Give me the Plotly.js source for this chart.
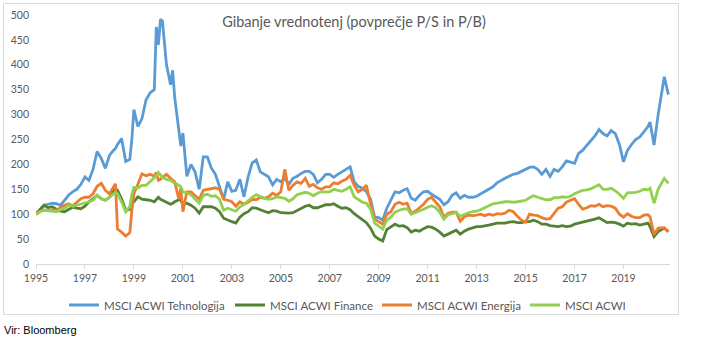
<!DOCTYPE html>
<html>
<head>
<meta charset="utf-8">
<script src="https://cdn.plot.ly/plotly-3.0.1.min.js"></script>
<style>
  html, body { margin: 0; padding: 0; background: #ffffff; }
  #chart { width: 704px; height: 357px; }
</style>
</head>
<body>
<div id="chart"></div>
<script>
// Dates of the observations (month)
const dates = [
  "1995-01","1995-03","1995-05","1995-07","1995-09","1995-11",
  "1996-01","1996-03","1996-05","1996-07","1996-09","1996-11",
  "1997-01","1997-03","1997-05","1997-07","1997-09","1997-11",
  "1998-01","1998-03","1998-04","1998-05","1998-07","1998-09","1998-11","1998-12",
  "1999-01","1999-03","1999-05","1999-07","1999-09","1999-11","1999-12",
  "2000-01","2000-02","2000-03","2000-05","2000-07","2000-08","2000-09","2000-11","2000-12",
  "2001-01","2001-03","2001-05","2001-07","2001-09","2001-11",
  "2002-01","2002-03","2002-05","2002-07","2002-09","2002-11",
  "2003-01","2003-03","2003-05","2003-07","2003-09","2003-11",
  "2004-01","2004-03","2004-05","2004-07","2004-09","2004-11",
  "2005-01","2005-03","2005-05","2005-07","2005-09","2005-11",
  "2006-01","2006-03","2006-05","2006-07","2006-09","2006-11",
  "2007-01","2007-03","2007-05","2007-07","2007-09","2007-11",
  "2008-01","2008-03","2008-05","2008-07","2008-09","2008-11",
  "2009-01","2009-03","2009-05","2009-07","2009-09","2009-11",
  "2010-01","2010-03","2010-05","2010-07","2010-09","2010-11",
  "2011-01","2011-03","2011-05","2011-07","2011-09","2011-11",
  "2012-01","2012-03","2012-05","2012-07","2012-09","2012-11",
  "2013-01","2013-03","2013-05","2013-07","2013-09","2013-11",
  "2014-01","2014-03","2014-05","2014-07","2014-09","2014-11",
  "2015-01","2015-03","2015-05","2015-07","2015-09","2015-11",
  "2016-01","2016-03","2016-05","2016-07","2016-09","2016-11",
  "2017-01","2017-03","2017-05","2017-07","2017-09","2017-11",
  "2018-01","2018-03","2018-05","2018-07","2018-09","2018-11",
  "2019-01","2019-03","2019-05","2019-07","2019-09","2019-11",
  "2020-01","2020-02","2020-04","2020-06","2020-08","2020-09","2020-11"
];

const seriesNames = ["MSCI ACWI Tehnologija", "MSCI ACWI Finance", "MSCI ACWI Energija", "MSCI ACWI"];

const tech = [
  100,110,118,120,122,121,
  118,128,138,145,150,160,
  175,168,190,226,212,192,
  218,228,232,240,252,206,210,250,
  310,276,292,330,344,350,476,
  440,491,488,400,360,389,334,274,237,
  263,176,200,185,150,215,
  215,193,180,155,130,165,
  146,148,170,135,175,203,
  209,185,180,175,159,170,
  165,172,160,172,176,182,
  186,186,180,163,170,180,
  180,174,180,185,189,195,
  165,156,152,145,130,94,
  93,88,112,128,145,143,
  148,151,132,128,138,145,
  146,140,135,130,119,125,
  138,143,132,138,134,134,
  136,141,145,150,155,163,
  168,172,176,180,182,186,
  190,194,195,190,180,190,
  176,190,186,195,207,205,
  202,222,228,238,247,257,
  270,262,257,268,262,240,
  205,228,240,250,255,265,
  276,285,239,300,345,376,340
];

const finance = [
  101,109,118,113,115,110,
  106,105,110,114,112,111,
  116,125,131,138,131,128,
  134,145,151,148,131,108,110,125,
  125,135,130,129,128,125,130,
  134,130,128,124,120,122,125,129,128,
  120,122,118,112,102,115,
  115,115,112,105,92,88,
  85,82,94,101,105,113,
  112,109,106,103,107,106,
  103,102,102,103,107,112,
  116,118,113,113,116,119,
  119,121,116,112,113,109,
  101,95,88,83,72,56,
  50,46,69,75,80,76,
  77,73,64,68,66,71,
  75,74,70,64,56,60,
  64,68,60,66,70,73,
  75,75,76,78,80,82,
  82,82,84,85,83,83,
  85,85,88,85,80,80,
  77,76,75,77,75,76,
  80,82,84,85,87,90,
  93,88,83,84,83,80,
  76,82,80,81,78,80,
  82,75,55,65,70,72,65
];

const energy = [
  101,106,108,108,108,108,
  113,118,121,117,124,131,
  134,134,141,156,162,148,
  141,156,161,70,64,56,63,108,
  141,160,181,177,180,176,184,
  168,170,174,180,172,168,165,130,152,
  105,145,145,138,130,148,
  150,152,153,150,130,128,
  125,116,125,120,124,130,
  129,134,132,135,142,138,
  145,190,148,158,165,162,
  172,156,160,153,150,155,
  155,163,161,166,170,178,
  158,145,150,158,120,90,
  84,80,100,105,120,124,
  120,122,102,106,113,120,
  130,134,124,115,94,102,
  104,104,86,95,98,97,
  98,100,97,100,98,101,
  100,102,108,105,96,88,
  84,100,98,97,93,90,
  91,102,112,115,124,128,
  131,120,110,113,117,116,
  120,115,117,116,112,100,
  94,101,96,93,93,98,
  99,95,59,72,72,73,65
];

const acwi = [
  99,105,108,107,106,105,
  109,112,118,116,118,120,
  122,125,128,138,131,128,
  134,140,144,141,125,105,115,140,
  154,153,158,158,165,172,177,
  184,178,174,170,168,165,162,158,155,
  145,143,139,130,122,138,
  140,136,137,130,108,112,
  109,106,115,120,127,134,
  139,135,132,130,131,135,
  134,132,126,131,139,142,
  144,142,137,142,145,145,
  145,150,148,146,150,155,
  135,129,124,122,110,82,
  75,70,88,94,104,108,
  110,111,100,103,107,110,
  114,117,113,104,90,99,
  101,104,96,100,103,105,
  106,109,113,118,121,122,
  124,125,125,124,125,126,
  128,133,137,134,131,129,
  129,133,133,135,134,136,
  141,145,148,149,151,155,
  159,150,150,152,147,140,
  132,143,143,144,146,150,
  149,152,122,150,165,172,162
];

const colors = ["#5B9BD5", "#548235", "#ED7D31", "#92D050"];
const legendWidths = [121, 102, 103, 80];
const values = [tech, finance, energy, acwi];

const W = 704, H = 357;
const L = 36, R = 34, T = 15, B = 93;
const pw = W - L - R, ph = H - T - B;
const px = v => (v - L) / pw;
const py = v => (H - B - v) / ph;

const traces = values.map((vals, i) => ({
  type: "scatter",
  mode: "lines",
  x: dates,
  y: vals,
  name: seriesNames[i],
  line: { color: colors[i], width: 2.8 },
  legendwidth: legendWidths[i],
  hoverinfo: "x+y+name"
}));

const tickFont = { family: "Lato, 'Open Sans', sans-serif", size: 10.5, color: "#595959" };

const layout = {
  width: W,
  height: H,
  margin: { l: L, r: R, t: T, b: B, pad: 0 },
  paper_bgcolor: "#ffffff",
  plot_bgcolor: "#ffffff",
  title: {
    text: "Gibanje vrednotenj (povprečje P/S in P/B)",
    font: { family: "Lato, 'Open Sans', sans-serif", size: 14.5, color: "#595959" },
    x: 354 / W, xanchor: "center",
    y: 1 - 22 / H, yanchor: "middle"
  },
  xaxis: {
    type: "date",
    range: ["1995-01-01", "2020-11-25"],
    tick0: "1995-01-01",
    dtick: "M24",
    tickformat: "%Y",
    showgrid: false,
    zeroline: false,
    showline: true,
    linecolor: "#d9d9d9",
    linewidth: 1,
    ticks: "outside",
    ticklen: 4,
    tickcolor: "#d9d9d9",
    tickfont: tickFont,
    fixedrange: true
  },
  yaxis: {
    range: [0, 500],
    dtick: 50,
    tick0: 0,
    showgrid: false,
    zeroline: false,
    showline: false,
    ticks: "",
    ticklabelstandoff: 6,
    tickfont: tickFont,
    fixedrange: true
  },
  showlegend: true,
  legend: {
    orientation: "h",
    x: px(64), xanchor: "left",
    y: py(305), yanchor: "middle",
    font: { family: "Lato, 'Open Sans', sans-serif", size: 11.5, color: "#595959" },
    bgcolor: "rgba(0,0,0,0)",
    borderwidth: 0,
    itemclick: false,
    itemdoubleclick: false
  },
  shapes: [
    {
      type: "rect", xref: "paper", yref: "paper",
      x0: px(3.5), x1: px(678.5), y0: py(314.5), y1: py(3.5),
      line: { color: "#d9d9d9", width: 1 },
      fillcolor: "rgba(0,0,0,0)",
      layer: "below"
    }
  ],
  annotations: [
    {
      text: "Vir: Bloomberg",
      xref: "paper", yref: "paper",
      x: px(2), xanchor: "left",
      y: py(330), yanchor: "middle",
      showarrow: false,
      font: { family: "'Liberation Sans', Arial, sans-serif", size: 11, color: "#000000" }
    }
  ]
};

Plotly.newPlot("chart", traces, layout, { displayModeBar: false, staticPlot: true });
</script>
</body>
</html>
